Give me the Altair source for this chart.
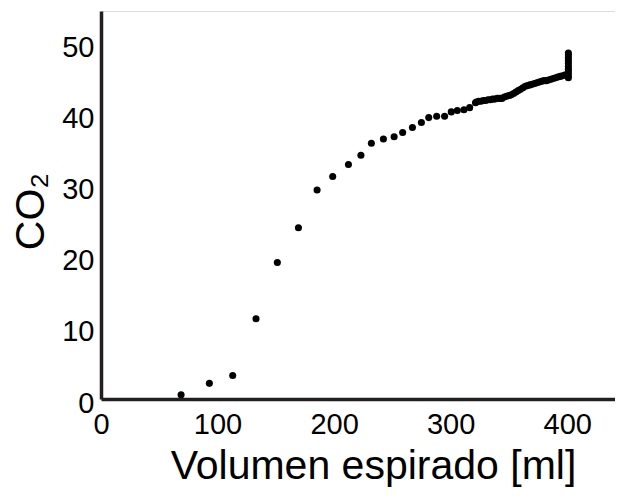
import altair as alt
import pandas as pd

# Volume expired [ml] and CO2 readings
volumen = [
    68.7, 93.0, 113.0, 133.0, 151.3, 169.4, 185.4, 198.8, 212.3, 223.0,
    232.0, 242.3, 251.5, 258.8, 267.2, 274.9, 281.2, 288.0, 294.8, 300.5,
    305.7, 311.4, 316.3, 321.3,
    322, 324, 326, 328, 330, 332, 334, 336, 338, 340,
    342, 344, 346, 348, 350, 352, 354, 356, 358, 360,
    362, 364, 366, 368, 370, 372, 374, 376, 378, 380,
    382, 384, 386, 388, 390, 392, 394, 396, 398, 400,
    401, 401, 401, 401, 401, 401, 401, 401, 401, 401,
]
co2 = [
    0.6, 2.2, 3.3, 11.3, 19.2, 24.1, 29.4, 31.3, 33.0, 34.3,
    36.0, 36.6, 36.9, 37.5, 38.2, 38.9, 39.6, 39.8, 39.8, 40.4,
    40.6, 40.7, 41.0, 41.7,
    41.8, 41.9, 41.9, 42.0, 42.0, 42.1, 42.1, 42.2, 42.2, 42.3,
    42.3, 42.3, 42.5, 42.6, 42.7, 42.8, 43.0, 43.2, 43.4, 43.6,
    43.8, 44.0, 44.1, 44.2, 44.3, 44.4, 44.5, 44.6, 44.7, 44.8,
    44.8, 44.9, 45.0, 45.1, 45.2, 45.3, 45.4, 45.5, 45.6, 45.7,
    45.2, 45.6, 46.0, 46.4, 46.8, 47.2, 47.6, 48.0, 48.4, 48.7,
]
x_ticks = [0, 100, 200, 300, 400]
y_ticks = [0, 10, 20, 30, 40, 50]

df = pd.DataFrame({"vol": volumen, "co2": co2})

FONT = "Liberation Sans"
AXIS_COLOR = "#231f20"

chart = (
    alt.Chart(df)
    .mark_circle(size=50, color="black", opacity=1)
    .encode(
        x=alt.X(
            "vol:Q",
            scale=alt.Scale(domain=[0, 441], nice=False, zero=False),
            axis=alt.Axis(
                values=x_ticks,
                ticks=False,
                grid=False,
                domainColor=AXIS_COLOR,
                domainWidth=3.5,
                labelFont=FONT,
                labelFontSize=29,
                labelColor="black",
                labelPadding=11,
                labelFlush=False,
                labelOverlap=False,
                title="Volumen espirado [ml]",
                titleFont=FONT,
                titleFontSize=41,
                titleFontWeight="normal",
                titleColor="black",
                titleX=272,
                titleY=79,
                titleBaseline="alphabetic",
                titleAlign="center",
            ),
        ),
        y=alt.Y(
            "co2:Q",
            scale=alt.Scale(domain=[0, 54.6], nice=False, zero=False),
            axis=alt.Axis(
                values=y_ticks,
                ticks=False,
                grid=False,
                domainColor=AXIS_COLOR,
                domainWidth=3.5,
                labelFont=FONT,
                labelFontSize=29,
                labelColor="black",
                labelPadding=7,
                labelOffset=4,
                labelFlush=False,
                labelOverlap=False,
                title="CO₂",
                titleFont=FONT,
                titleFontSize=41,
                titleFontWeight="normal",
                titleColor="black",
                titleAngle=270,
                titleX=-70,
                titleY=200,
                titleBaseline="middle",
                titleAlign="center",
            ),
        ),
    )
    .properties(
        width=514,
        height=388,
        padding={"left": 93, "top": 3, "right": 0, "bottom": 89},
        autosize=alt.AutoSizeParams(type="none"),
    )
    .configure_view(stroke=None)
    .configure(background="white")
)

chart.save("out.html", embed_options={"renderer": "svg", "actions": False})
